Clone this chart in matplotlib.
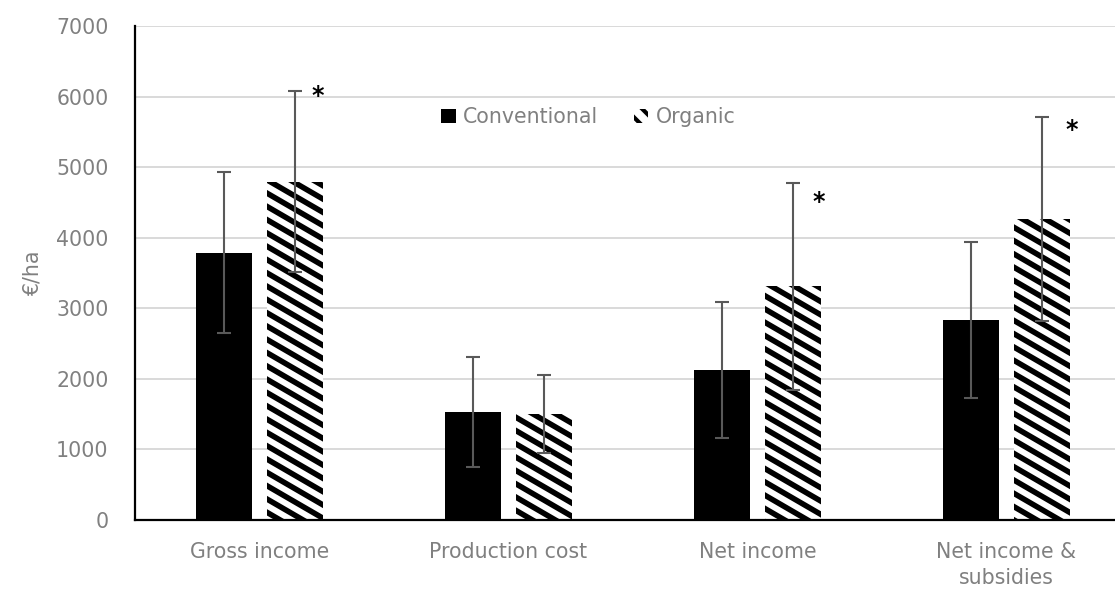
import numpy as np
import matplotlib
matplotlib.use("Agg")
import matplotlib.pyplot as plt
from matplotlib.patches import Patch
from matplotlib.collections import LineCollection

plt.rcParams['font.family'] = ['DejaVu Sans']
plt.rcParams['hatch.linewidth'] = 3.0

# Data (€/ha)
categories = ["Gross income", "Production cost", "Net income", "Net income &\nsubsidies"]
conventional = [3790, 1535, 2130, 2835]
conventional_err = [1135, 780, 965, 1110]
organic = [4795, 1500, 3310, 4260]
organic_err = [1285, 550, 1465, 1445]
# significance markers: (x position, y position)
star_x = [0.234, 2.247, 3.262]
star_y = [6013, 4502, 5526]
yticks = [0, 1000, 2000, 3000, 4000, 5000, 6000, 7000]

GRAY = "#808080"
ERR = "#595959"
FS = 14.8
W, H = 11.15, 5.90

fig = plt.figure(figsize=(W, H), dpi=100)
ax = fig.add_axes([135 / 1115, 70 / 590, 996 / 1115, 494 / 590])

x = np.arange(len(categories))
bw = 0.223
off = 0.142

ax.bar(x - off, conventional, bw, color="black", zorder=2)
org_bars = ax.bar(x + off, organic, bw, color="white", edgecolor="none", zorder=2)

# diagonal stripes for the organic bars, drawn in inch space and clipped to each bar
slope = -0.58
period = 0.133
cs = np.arange(-1.0, H + abs(slope) * W + 1.0, period)
segs = [[(0, c), (W, c + slope * W)] for c in cs]
for rect in org_bars:
    lc = LineCollection(segs, colors="black", linewidths=4.0,
                        transform=fig.dpi_scale_trans, zorder=2.5)
    ax.add_collection(lc, autolim=False)
    lc.set_clip_path(rect.get_path(), rect.get_transform())

ax.errorbar(x - off, conventional, yerr=conventional_err, fmt="none",
            ecolor=ERR, elinewidth=1.5, capsize=5, capthick=1.5, zorder=3)
ax.errorbar(x + off, organic, yerr=organic_err, fmt="none",
            ecolor=ERR, elinewidth=1.5, capsize=5, capthick=1.5, zorder=3)

for sx, sy in zip(star_x, star_y):
    ax.text(sx, sy, "*", ha="center", va="center", fontsize=17,
            fontweight="bold", color="black", zorder=4)

ax.set_xlim(-0.5, 3.5)
ax.set_ylim(0, 7000)
ax.set_yticks(yticks)
ax.set_xticks(x)
ax.set_xticklabels(categories, linespacing=1.35)
ax.tick_params(axis="both", length=0, labelsize=FS, labelcolor=GRAY)
ax.tick_params(axis="y", pad=19)
ax.tick_params(axis="x", pad=16)
ax.yaxis.grid(True, color="#d9d9d9", linewidth=1.4, zorder=0)
ax.set_axisbelow(True)

for s in ["top", "right"]:
    ax.spines[s].set_visible(False)
for s in ["left", "bottom"]:
    ax.spines[s].set_color("black")
    ax.spines[s].set_linewidth(1.6)

ax.set_ylabel("€/ha", fontsize=FS, color=GRAY, labelpad=10)

handles = [Patch(facecolor="black", edgecolor="black", linewidth=0),
           Patch(facecolor="white", edgecolor="black", hatch="\\\\", linewidth=0)]
leg = ax.legend(handles, ["Conventional", "Organic"], loc="center",
                bbox_to_anchor=(0.455, 0.816), ncol=2, frameon=False,
                fontsize=FS, handlelength=0.7, handleheight=0.7,
                handletextpad=0.35, columnspacing=1.75, borderpad=0)
for t in leg.get_texts():
    t.set_color(GRAY)

fig.savefig("out.png", dpi=100)
